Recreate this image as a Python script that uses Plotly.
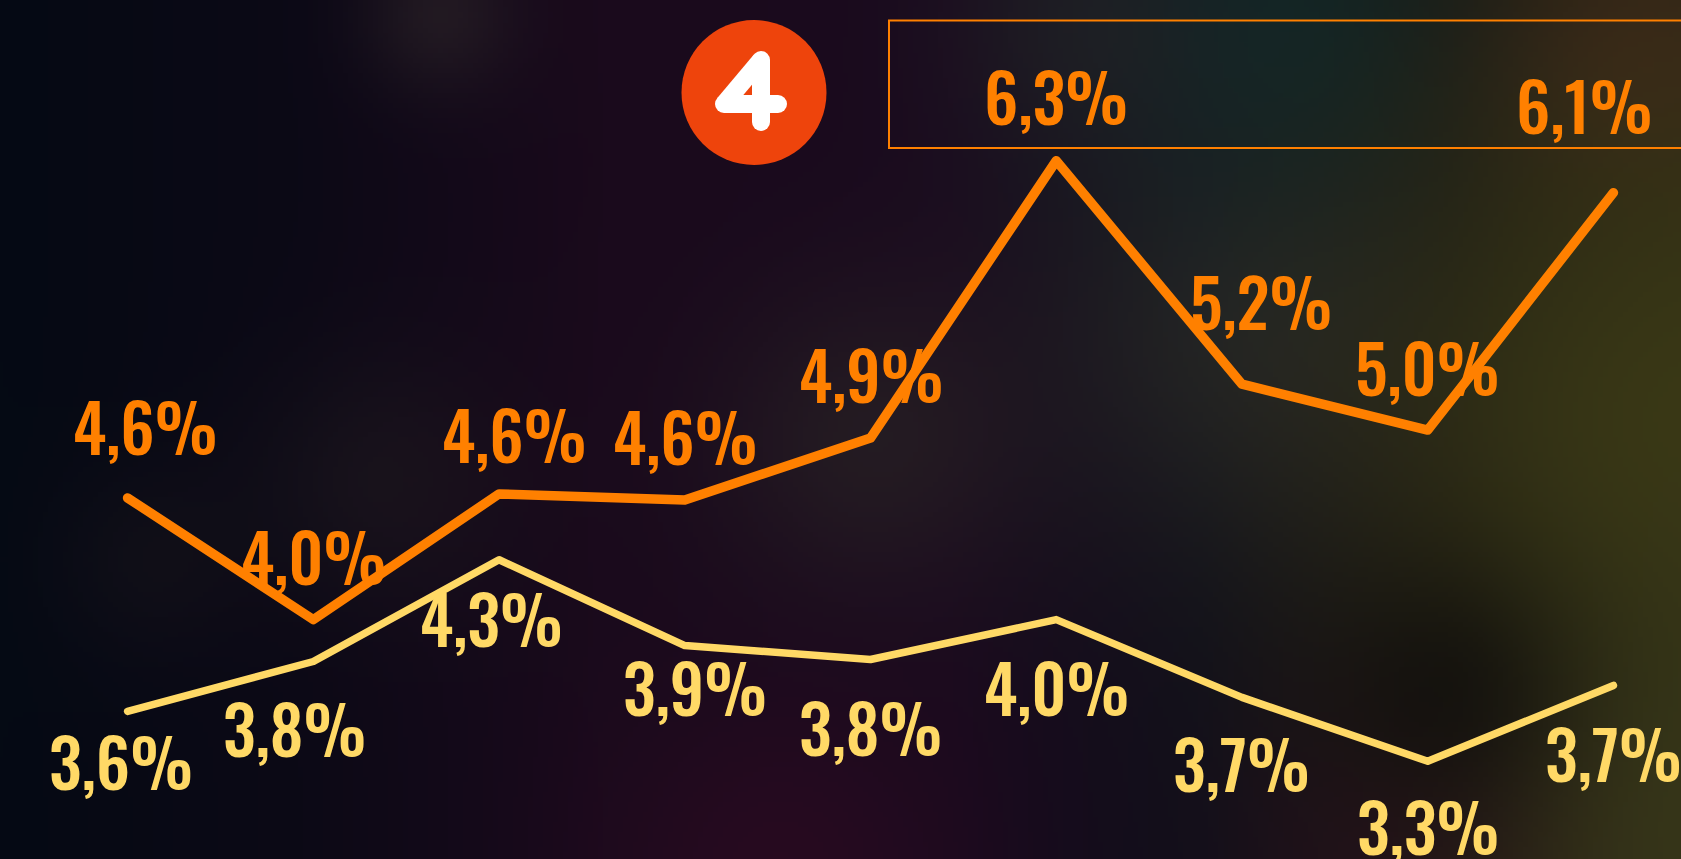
import base64
import struct
import zlib

import numpy as np
import plotly.graph_objects as go

# ---------------- data ----------------
periods = list(range(9))
orange_values = [4.61, 4.00, 4.63, 4.60, 4.91, 6.30, 5.18, 4.95, 6.14]
orange_labels = ["4,6%", "4,0%", "4,6%", "4,6%", "4,9%", "6,3%", "5,2%", "5,0%", "6,1%"]
yellow_values = [3.54, 3.79, 4.30, 3.87, 3.80, 4.00, 3.61, 3.29, 3.67]
yellow_labels = ["3,6%", "3,8%", "4,3%", "3,9%", "3,8%", "4,0%", "3,7%", "3,3%", "3,7%"]

# ---------------- styling ----------------
W, H = 1681, 859
ORANGE = "#FF8000"
YELLOW = "#FFD966"
FONT = ("Oswald, 'Noto Sans ExtraCondensed', 'Noto Sans Condensed', 'Open Sans Condensed', "
        "'Liberation Sans Narrow', 'Roboto Condensed', 'DejaVu Sans Condensed', sans-serif")
# label offsets in pixels (label centre relative to point)
orange_dx = [17, 0, 15, 0, 0, 0, 19, 0, -29]
orange_dy = [-69, -61, -57, -61, -61, -62, -80, -60, -85]
yellow_dx = [-7, -19, -8, 10, 0, 0, 0, 0, 0]
yellow_dy = [53, 69, 61, 44, 70, 70, 69, 68, 71]


def px_x(p):
    return p / W


def px_y(p):
    return 1 - p / H


# ---------------- background image ----------------
def make_background(w=336, h=172):
    xs = (np.arange(w) + 0.5) * (W / w)
    ys = (np.arange(h) + 0.5) * (H / h)
    X, Y = np.meshgrid(xs, ys)
    stops_x = [0, 300, 600, 950, 1200, 1450, 1681]
    stops_c = [(5, 10, 20), (12, 9, 22), (26, 10, 28), (26, 10, 30), (14, 14, 26), (20, 18, 16), (34, 34, 18)]
    img = np.zeros((h, w, 3))
    for k in range(3):
        img[..., k] = np.interp(X, stops_x, [c[k] for c in stops_c])
    blobs = [
        (440, 15, 55, (44, 36, 40), 0.6),
        (870, 440, 110, (40, 34, 36), 0.7),
        (1250, 330, 150, (42, 42, 42), 0.7),
        (1280, 20, 140, (16, 44, 44), 0.7),
        (1090, 20, 100, (40, 40, 40), 0.5),
        (1640, 60, 110, (62, 38, 26), 0.8),
        (1690, 420, 240, (60, 58, 22), 0.9),
        (1660, 830, 180, (58, 58, 26), 0.8),
        (780, 870, 120, (48, 10, 34), 0.6),
        (1380, 850, 120, (42, 12, 30), 0.5),
        (380, 480, 90, (38, 32, 34), 0.4),
        (150, 560, 70, (34, 26, 30), 0.3),
        (1450, 690, 90, (10, 10, 10), 0.6),
    ]
    for bx, by, s, col, a in blobs:
        g = a * np.exp(-((X - bx) ** 2 + (Y - by) ** 2) / (2 * s * s))
        for k in range(3):
            img[..., k] = img[..., k] * (1 - g) + col[k] * g
    arr = np.clip(img, 0, 255).astype(np.uint8)
    raw = b"".join(b"\x00" + arr[i].tobytes() for i in range(h))

    def chunk(t, d):
        c = struct.pack(">I", len(d)) + t + d
        return c + struct.pack(">I", zlib.crc32(t + d) & 0xFFFFFFFF)

    png = (b"\x89PNG\r\n\x1a\n" + chunk(b"IHDR", struct.pack(">IIBBBBB", w, h, 8, 2, 0, 0, 0))
           + chunk(b"IDAT", zlib.compress(raw, 9)) + chunk(b"IEND", b""))
    return "data:image/png;base64," + base64.b64encode(png).decode()


# ---------------- figure ----------------
fig = go.Figure()
fig.add_trace(go.Scatter(x=periods, y=orange_values, mode="lines",
                         line=dict(color=ORANGE, width=9.5), hoverinfo="skip"))
fig.add_trace(go.Scatter(x=periods, y=yellow_values, mode="lines",
                         line=dict(color=YELLOW, width=7.5), hoverinfo="skip"))

annotations = []
for vals, labels, dxs, dys, col in [
    (orange_values, orange_labels, orange_dx, orange_dy, ORANGE),
    (yellow_values, yellow_labels, yellow_dx, yellow_dy, YELLOW),
]:
    for x, v, t, dx, dy in zip(periods, vals, labels, dxs, dys):
        annotations.append(dict(x=x, y=v, xref="x", yref="y", text=t, showarrow=False,
                                xanchor="center", yanchor="middle",
                                xshift=dx, yshift=-dy + 4,
                                font=dict(family=FONT, size=66, color=col, weight=500)))

shapes = [
    dict(type="rect", xref="paper", yref="paper", x0=px_x(889), x1=px_x(1700),
         y0=px_y(148), y1=px_y(20.5), line=dict(color=ORANGE, width=2), layer="above"),
    dict(type="circle", xref="paper", yref="paper", x0=px_x(681.5), x1=px_x(826.5),
         y0=px_y(165), y1=px_y(20), fillcolor="#EE440C", line=dict(width=0), layer="above"),
]
seg = [((761, 60), (761, 122)), ((761, 60), (724, 104)), ((724, 104), (778, 104))]
for (a, b) in seg:
    shapes.append(dict(type="line", xref="paper", yref="paper", x0=px_x(a[0]), y0=px_y(a[1]),
                       x1=px_x(b[0]), y1=px_y(b[1]), line=dict(color="white", width=18),
                       layer="above"))
for (cx, cy) in [(761, 60), (724, 104), (778, 104), (761, 122)]:
    r = 9
    shapes.append(dict(type="circle", xref="paper", yref="paper", x0=px_x(cx - r), x1=px_x(cx + r),
                       y0=px_y(cy + r), y1=px_y(cy - r), fillcolor="white", line=dict(width=0),
                       layer="above"))

x_unit = 185.73
x0 = -127.6 / x_unit
x1 = x0 + W / x_unit
y_unit = 199.5
y_top = 4 + 619.6 / y_unit
y_bot = 4 - (H - 619.6) / y_unit

fig.update_layout(
    width=W, height=H,
    margin=dict(l=0, r=0, t=0, b=0),
    paper_bgcolor="#0c0a14", plot_bgcolor="rgba(0,0,0,0)",
    showlegend=False,
    xaxis=dict(range=[x0, x1], visible=False, fixedrange=True),
    yaxis=dict(range=[y_bot, y_top], visible=False, fixedrange=True),
    annotations=annotations,
    shapes=shapes,
    images=[dict(source=make_background(), xref="paper", yref="paper", x=0, y=1,
                 sizex=1, sizey=1, sizing="stretch", xanchor="left", yanchor="top",
                 layer="below")],
)

post = ("document.body.style.margin='0';document.body.style.overflow='hidden';"
        "document.querySelectorAll('.js-line').forEach(function(p){"
        "p.style.strokeLinejoin='round';p.style.strokeLinecap='round';});")
fig.write_html("out.html", config={"displayModeBar": False}, post_script=post)
